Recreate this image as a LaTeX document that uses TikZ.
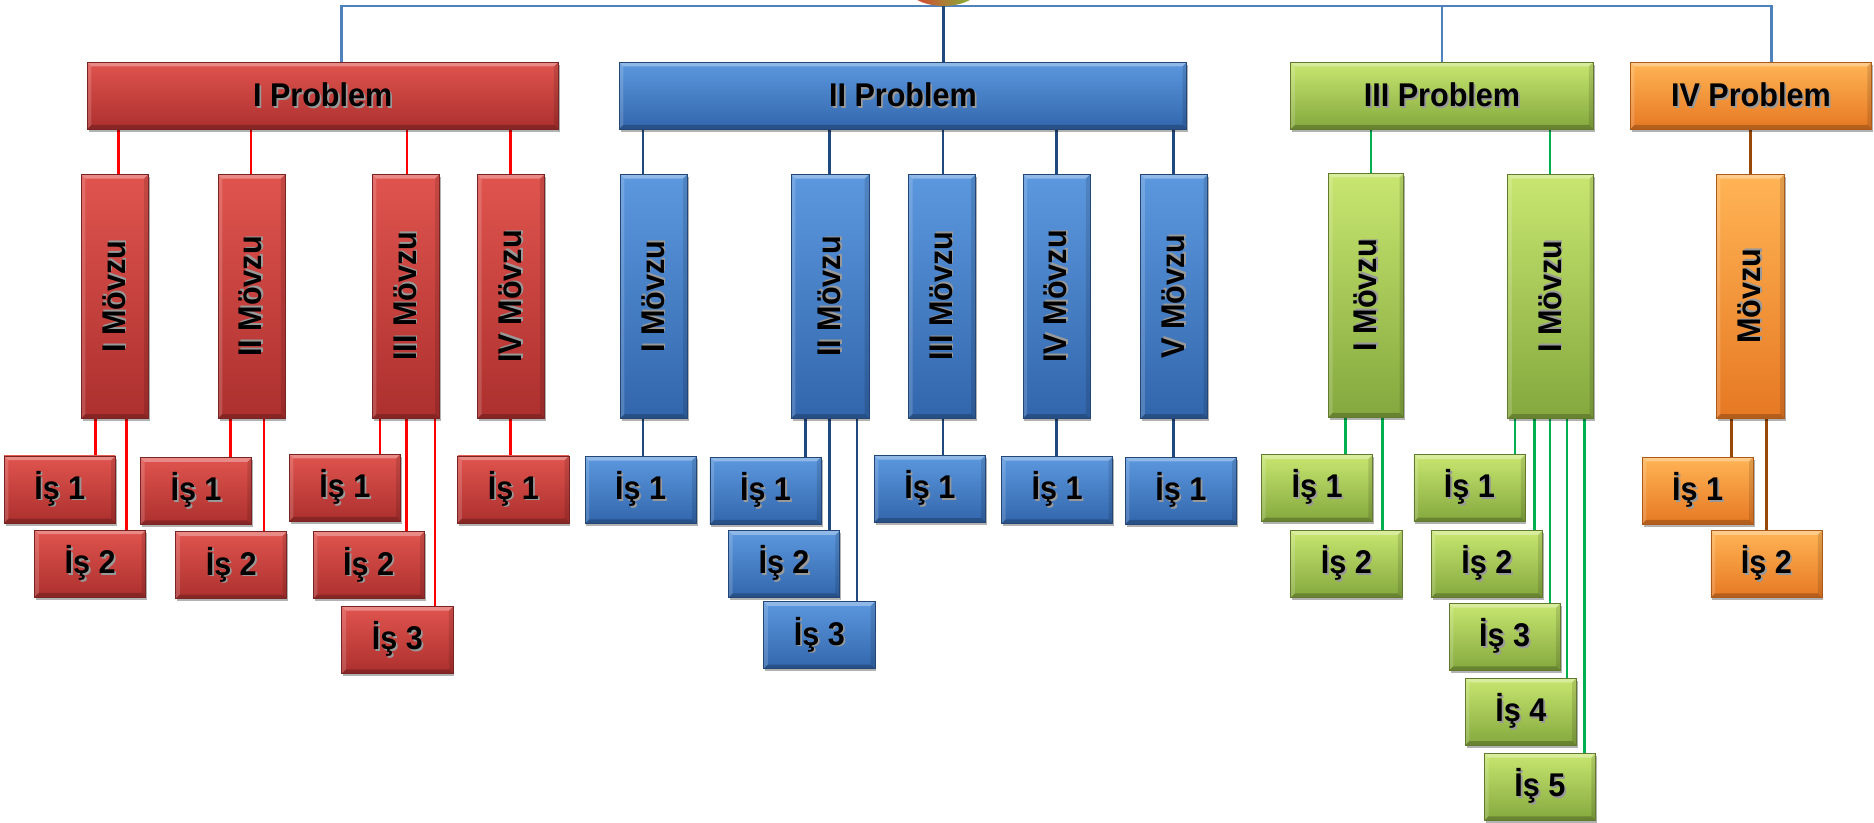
\documentclass[tikz,border=0pt]{standalone}
\usepackage{fontspec}
\setmainfont{Liberation Sans}[FakeStretch=0.93]
\usepackage{graphicx}
\usetikzlibrary{shadows,shapes.geometric,backgrounds}

\definecolor{redT}{RGB}{224,84,78}
\definecolor{redB}{RGB}{172,48,46}
\definecolor{redD}{RGB}{120,36,34}
\definecolor{bluT}{RGB}{92,152,222}
\definecolor{bluB}{RGB}{50,102,172}
\definecolor{bluD}{RGB}{36,70,118}
\definecolor{grnT}{RGB}{200,230,112}
\definecolor{grnB}{RGB}{132,168,62}
\definecolor{grnD}{RGB}{98,122,48}
\definecolor{orgT}{RGB}{255,180,85}
\definecolor{orgB}{RGB}{230,120,35}
\definecolor{orgD}{RGB}{172,90,28}
\definecolor{busC}{RGB}{79,129,189}
\definecolor{lnRed}{RGB}{255,0,0}
\definecolor{lnBlu}{RGB}{31,73,125}
\definecolor{lnGrn}{RGB}{0,176,80}
\definecolor{lnBrn}{RGB}{152,72,7}
\definecolor{rootR}{RGB}{225,55,45}
\definecolor{rootG}{RGB}{120,195,60}

\newcommand{\shtx}[1]{\raisebox{1pt}{\makebox[0pt][l]{\hspace*{1.5pt}\raisebox{-1.5pt}{\textcolor{black!40}{#1}}}#1}}
\newcommand{\vtx}[1]{\rotatebox{90}{\shtx{#1}}}

\tikzset{
  bx/.style={rectangle, inner sep=0pt, draw=#1D, line width=0.6pt,
    top color=#1T, bottom color=#1B,
    font=\bfseries\fontsize{27.5}{32}\selectfont, text=black,
    drop shadow={shadow xshift=1.2pt, shadow yshift=-2.2pt, opacity=0.3, fill=black},
    path picture={
      \fill[white,opacity=0.32] (path picture bounding box.north west) -- (path picture bounding box.north east)
        -- ([xshift=-3.5pt,yshift=-3.5pt]path picture bounding box.north east)
        -- ([xshift=3.5pt,yshift=-3.5pt]path picture bounding box.north west) -- cycle;
      \fill[white,opacity=0.16] (path picture bounding box.north west) -- ([xshift=3.5pt,yshift=-3.5pt]path picture bounding box.north west)
        -- ([xshift=3.5pt,yshift=3.5pt]path picture bounding box.south west) -- (path picture bounding box.south west) -- cycle;
      \fill[black,opacity=0.12] (path picture bounding box.north east) -- ([xshift=-3.5pt,yshift=-3.5pt]path picture bounding box.north east)
        -- ([xshift=-3.5pt,yshift=3.5pt]path picture bounding box.south east) -- (path picture bounding box.south east) -- cycle;
      \fill[black,opacity=0.22] (path picture bounding box.south west) -- ([xshift=3.5pt,yshift=3.5pt]path picture bounding box.south west)
        -- ([xshift=-3.5pt,yshift=3.5pt]path picture bounding box.south east) -- (path picture bounding box.south east) -- cycle;
    }},
  prb/.style={minimum height=56pt},
  mvz/.style={minimum width=56pt, minimum height=204pt},
  isb/.style={minimum width=93pt, minimum height=56pt},
  bus/.style={draw=busC, line width=2.4pt},
  lr/.style={draw=lnRed, line width=2.2pt},
  lb/.style={draw=lnBlu, line width=2.2pt},
  lg/.style={draw=lnGrn, line width=2.2pt},
  lo/.style={draw=lnBrn, line width=2.2pt},
}

\begin{document}
\begin{tikzpicture}[x=1pt,y=-1pt]
\useasboundingbox (0,0) rectangle (1568,688);

% root (cut off at the top)
\node[ellipse, minimum width=62pt, minimum height=34pt, inner sep=0pt, left color=rootR, right color=rootG, middle color=rootR!50!rootG] (root) at (789.5,-12) {};

% problems
\node[bx=red, prb, minimum width=394pt] (P1) at (270,80) {\shtx{I Problem}};
\node[bx=blu, prb, minimum width=475pt] (P2) at (755.5,80) {\shtx{II Problem}};
\node[bx=grn, prb, minimum width=253pt] (P3) at (1206.5,80) {\shtx{III Problem}};
\node[bx=org, prb, minimum width=202pt] (P4) at (1465,80) {\shtx{IV Problem}};

% movzu
\node[bx=red, mvz] (M11) at (96,248) {\vtx{I Mövzu}};
\node[bx=red, mvz] (M12) at (210.5,248) {\vtx{II Mövzu}};
\node[bx=red, mvz] (M13) at (339.5,248) {\vtx{III Mövzu}};
\node[bx=red, mvz] (M14) at (427.5,248) {\vtx{IV Mövzu}};
\node[bx=blu, mvz] (M21) at (547,248) {\vtx{I Mövzu}};
\node[bx=blu, mvz, minimum width=65pt] (M22) at (694.5,248) {\vtx{II Mövzu}};
\node[bx=blu, mvz] (M23) at (788,248) {\vtx{III Mövzu}};
\node[bx=blu, mvz] (M24) at (884,248) {\vtx{IV Mövzu}};
\node[bx=blu, mvz] (M25) at (982.5,248) {\vtx{V Mövzu}};
\node[bx=grn, mvz, minimum width=63pt] (M31) at (1143,247) {\vtx{I Mövzu}};
\node[bx=grn, mvz, minimum width=72pt] (M32) at (1297.5,248) {\vtx{I Mövzu}};
\node[bx=org, mvz, minimum width=57pt] (M41) at (1464.5,248) {\vtx{Mövzu}};

% is boxes - red
\node[bx=red, isb] (R11) at (50,409.5) {\shtx{İş 1}};
\node[bx=red, isb] (R12) at (75.5,471.5) {\shtx{İş 2}};
\node[bx=red, isb] (R21) at (164,411) {\shtx{İş 1}};
\node[bx=red, isb] (R22) at (193.5,473) {\shtx{İş 2}};
\node[bx=red, isb] (R31) at (288.5,408) {\shtx{İş 1}};
\node[bx=red, isb] (R32) at (308.5,473) {\shtx{İş 2}};
\node[bx=red, isb] (R33) at (332.5,535.5) {\shtx{İş 3}};
\node[bx=red, isb] (R41) at (429.5,409.5) {\shtx{İş 1}};
% blue
\node[bx=blu, isb] (B11) at (536,410) {\shtx{İş 1}};
\node[bx=blu, isb] (B21) at (640.5,410.5) {\shtx{İş 1}};
\node[bx=blu, isb] (B22) at (656,472) {\shtx{İş 2}};
\node[bx=blu, isb] (B23) at (685.5,531.5) {\shtx{İş 3}};
\node[bx=blu, isb] (B31) at (778,409) {\shtx{İş 1}};
\node[bx=blu, isb] (B41) at (884.5,410) {\shtx{İş 1}};
\node[bx=blu, isb] (B51) at (988,410.5) {\shtx{İş 1}};
% green
\node[bx=grn, isb] (G11) at (1102,408.5) {\shtx{İş 1}};
\node[bx=grn, isb] (G12) at (1126.5,472) {\shtx{İş 2}};
\node[bx=grn, isb] (G21) at (1229.5,408.5) {\shtx{İş 1}};
\node[bx=grn, isb] (G22) at (1244,472) {\shtx{İş 2}};
\node[bx=grn, isb] (G23) at (1259,533) {\shtx{İş 3}};
\node[bx=grn, isb] (G24) at (1272.5,595.5) {\shtx{İş 4}};
\node[bx=grn, isb] (G25) at (1288.5,658.5) {\shtx{İş 5}};
% orange
\node[bx=org, isb] (O1) at (1420.5,410.5) {\shtx{İş 1}};
\node[bx=org, isb] (O2) at (1478,472) {\shtx{İş 2}};

\begin{scope}[on background layer]
% bus
\coordinate (bl) at (286,5);
\coordinate (br) at (1482,5);
\draw[bus] (P1.north -| bl) -- (bl) -- (br) -- (P4.north -| br);
\draw[bus] (P3.north) -- (P3.north |- bl);
\draw[lb] (root.south) -- (root.south |- P2.north);

% problem -> movzu
\foreach \m/\x in {M11/99,M12/210,M13/340.5,M14/427}
  \draw[lr] (P1.south -| \x,0) -- (\m.north -| \x,0);
\foreach \m/\x in {M21/538,M22/694,M23/789,M24/884,M25/982}
  \draw[lb] (P2.south -| \x,0) -- (\m.north -| \x,0);
\foreach \m/\x in {M31/1147,M32/1297}
  \draw[lg] (P3.south -| \x,0) -- (\m.north -| \x,0);
\draw[lo] (P4.south -| 1464.5,0) -- (M41.north -| 1464.5,0);

% movzu -> is
\foreach \m/\i/\x in {M11/R11/80,M11/R12/106,M12/R21/193,M12/R22/221,M13/R31/318,M13/R32/340,M13/R33/364,M14/R41/427}
  \draw[lr] (\m.south -| \x,0) -- (\i.north -| \x,0);
\foreach \m/\i/\x in {M21/B11/538,M22/B21/674,M22/B22/694,M22/B23/717,M23/B31/789,M24/B41/884,M25/B51/982}
  \draw[lb] (\m.south -| \x,0) -- (\i.north -| \x,0);
\foreach \m/\i/\x in {M31/G11/1126,M31/G12/1157,M32/G21/1267.5,M32/G22/1284,M32/G23/1297,M32/G24/1311,M32/G25/1325.5}
  \draw[lg] (\m.south -| \x,0) -- (\i.north -| \x,0);
\foreach \m/\i/\x in {M41/O1/1449,M41/O2/1478}
  \draw[lo] (\m.south -| \x,0) -- (\i.north -| \x,0);
\end{scope}
\end{tikzpicture}
\end{document}
